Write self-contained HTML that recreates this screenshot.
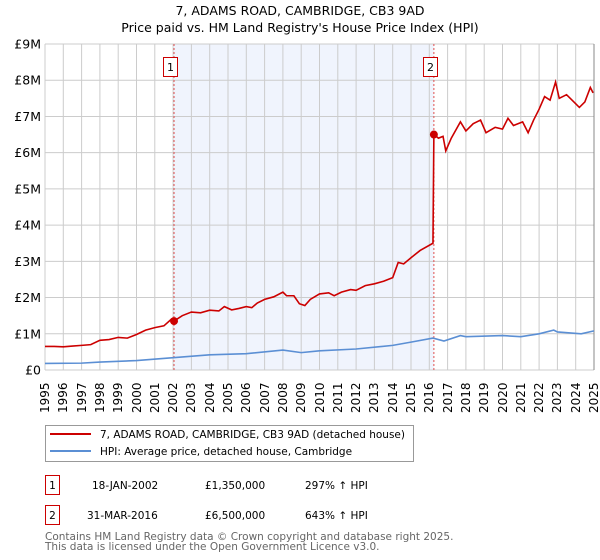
<!DOCTYPE html>
<html><head><meta charset="utf-8"><style>
body{margin:0;background:#fff;}
#wrap{position:relative;width:600px;height:560px;overflow:hidden;}
svg{display:block;font-family:"DejaVu Sans","Liberation Sans",sans-serif;}
.xt{position:absolute;font-family:"DejaVu Sans","Liberation Sans",sans-serif;font-size:12px;line-height:14px;height:14px;white-space:nowrap;transform:rotate(-90deg);transform-origin:0 0;color:#000;}
</style></head><body>
<div id="wrap">
<svg id="c" width="600" height="560">
<text x="300" y="15" text-anchor="middle" font-size="12.5">7, ADAMS ROAD, CAMBRIDGE, CB3 9AD</text>
<text x="300" y="32" text-anchor="middle" font-size="12.5">Price paid vs. HM Land Registry's House Price Index (HPI)</text>
<g id="plot"></g>
<g>
<rect x="45.5" y="425.5" width="368" height="36" fill="#fff" stroke="#999"/>
<line x1="50" y1="434" x2="91" y2="434" stroke="#cc0000" stroke-width="2"/>
<text x="100" y="438" font-size="10.5">7, ADAMS ROAD, CAMBRIDGE, CB3 9AD (detached house)</text>
<line x1="50" y1="451" x2="91" y2="451" stroke="#5b8fd4" stroke-width="2"/>
<text x="100" y="455" font-size="10.5">HPI: Average price, detached house, Cambridge</text>
</g>
<g font-size="10.5">
<rect x="45.5" y="475.5" width="14" height="19" fill="#fff" stroke="#cc0000"/>
<text x="52.5" y="489" text-anchor="middle">1</text>
<text x="92" y="489">18-JAN-2002</text><text x="205" y="489">£1,350,000</text><text x="305" y="489">297% ↑ HPI</text>
<rect x="45.5" y="505.5" width="14" height="19" fill="#fff" stroke="#cc0000"/>
<text x="52.5" y="519" text-anchor="middle">2</text>
<text x="87" y="519">31-MAR-2016</text><text x="205" y="519">£6,500,000</text><text x="305" y="519">643% ↑ HPI</text>
</g>
<text x="45" y="540" font-size="10.5" fill="#666">Contains HM Land Registry data © Crown copyright and database right 2025.</text>
<text x="45" y="550" font-size="10.5" fill="#666">This data is licensed under the Open Government Licence v3.0.</text>
</svg>
</div>
<script>
const yearTicks=[1995,1996,1997,1998,1999,2000,2001,2002,2003,2004,2005,2006,2007,2008,2009,2010,2011,2012,2013,2014,2015,2016,2017,2018,2019,2020,2021,2022,2023,2024,2025];
const valueTicks=[0,1,2,3,4,5,6,7,8,9];
const valueLabels=["£0","£1M","£2M","£3M","£4M","£5M","£6M","£7M","£8M","£9M"];
const priceYears=[1995,1995.5,1996,1996.5,1997,1997.5,1998,1998.5,1999,1999.5,2000,2000.5,2001,2001.5,2001.9,2002.05,2002.5,2003,2003.5,2004,2004.5,2004.8,2005.2,2005.6,2006,2006.3,2006.6,2007,2007.5,2008,2008.2,2008.6,2008.9,2009.2,2009.5,2010,2010.5,2010.8,2011.2,2011.7,2012,2012.5,2013,2013.5,2014,2014.3,2014.6,2015,2015.5,2016.2,2016.25,2016.5,2016.75,2016.9,2017.2,2017.7,2018,2018.4,2018.8,2019.1,2019.6,2020,2020.3,2020.6,2021.1,2021.4,2021.7,2022,2022.3,2022.6,2022.9,2023.1,2023.5,2023.9,2024.2,2024.5,2024.8,2024.95];
const priceValues=[0.65,0.65,0.64,0.66,0.68,0.70,0.82,0.84,0.90,0.88,0.98,1.10,1.17,1.22,1.40,1.35,1.50,1.60,1.58,1.65,1.63,1.75,1.66,1.70,1.75,1.72,1.85,1.95,2.02,2.15,2.05,2.05,1.83,1.78,1.95,2.10,2.13,2.05,2.15,2.22,2.20,2.33,2.38,2.45,2.55,2.97,2.93,3.10,3.30,3.50,6.50,6.40,6.45,6.05,6.40,6.85,6.60,6.80,6.90,6.55,6.70,6.65,6.95,6.75,6.85,6.55,6.90,7.20,7.55,7.45,7.95,7.50,7.60,7.40,7.25,7.40,7.80,7.65];
const hpiYears=[1995,1997,1998,2000,2002,2004,2006,2008,2009,2010,2012,2014,2015,2016.2,2016.8,2017.7,2018,2020,2021,2022,2022.8,2023,2024.3,2025];
const hpiValues=[0.18,0.19,0.22,0.26,0.34,0.42,0.45,0.55,0.48,0.53,0.58,0.68,0.77,0.88,0.80,0.95,0.92,0.95,0.92,1.00,1.10,1.05,1.00,1.08];
const saleYears=[2002.05,2016.25];
const saleValues=[1.35,6.5];
const saleLabels=["1","2"];

const L=45,R=594,T=44,B=370,NS="http://www.w3.org/2000/svg";
const xs=y=>L+(y-1995)*(R-L)/30;
const ys=v=>B-v*(B-T)/9;
const g=document.getElementById('plot');
const wrap=document.getElementById('wrap');
function mk(t,a,p){const e=document.createElementNS(NS,t);for(const k in a)e.setAttribute(k,a[k]);(p||g).appendChild(e);return e;}
const sh=mk('rect',{x:xs(saleYears[0]),y:T,width:xs(saleYears[1])-xs(saleYears[0]),height:B-T,fill:'#f0f4fd'});


yearTicks.forEach(yr=>{
 const l=mk('line',{x1:xs(yr),x2:xs(yr),y1:T,y2:B,stroke:'#ccc'});
 
 
 const d=document.createElement('div');
 d.className='xt';
 d.style.left=(xs(yr)-7)+'px';
 d.style.top='413px';
 d.textContent=yr;
 
 
 wrap.appendChild(d);
});
valueTicks.forEach((v,i)=>{
 const l=mk('line',{x1:L,x2:R,y1:ys(v),y2:ys(v),stroke:'#ccc'});
 
 
 const t=mk('text',{x:L-4,y:ys(v)+4.5,'font-size':12.5,'text-anchor':'end'});
 t.textContent=valueLabels[i];
 
 
});
mk('line',{x1:R,x2:R,y1:T,y2:B,stroke:'#888'});
saleYears.forEach((yr,i)=>{
 const l=mk('line',{x1:xs(yr),x2:xs(yr),y1:T,y2:B,stroke:'#e05050','stroke-dasharray':'2,2'});
 
 
 const r=mk('rect',{x:Math.round(xs(yr))-10.5,y:57.5,width:14,height:19,fill:'#fff',stroke:'#cc0000'});
 
 
 const t=mk('text',{x:Math.round(xs(yr))-3.5,y:71,'font-size':11,'text-anchor':'middle'});
 t.textContent=saleLabels[i];
 
 
});
const hp=mk('polyline',{points:hpiYears.map((y,i)=>xs(y)+','+ys(hpiValues[i])).join(' '),fill:'none',stroke:'#5b8fd4','stroke-width':1.6});


const pp=mk('polyline',{points:priceYears.map((y,i)=>xs(y)+','+ys(priceValues[i])).join(' '),fill:'none',stroke:'#cc0000','stroke-width':1.6});


saleYears.forEach((yr,i)=>{
 const c=mk('circle',{cx:xs(yr),cy:ys(saleValues[i]),r:4,fill:'#cc0000'});
 
 
});
</script>
</body></html>
